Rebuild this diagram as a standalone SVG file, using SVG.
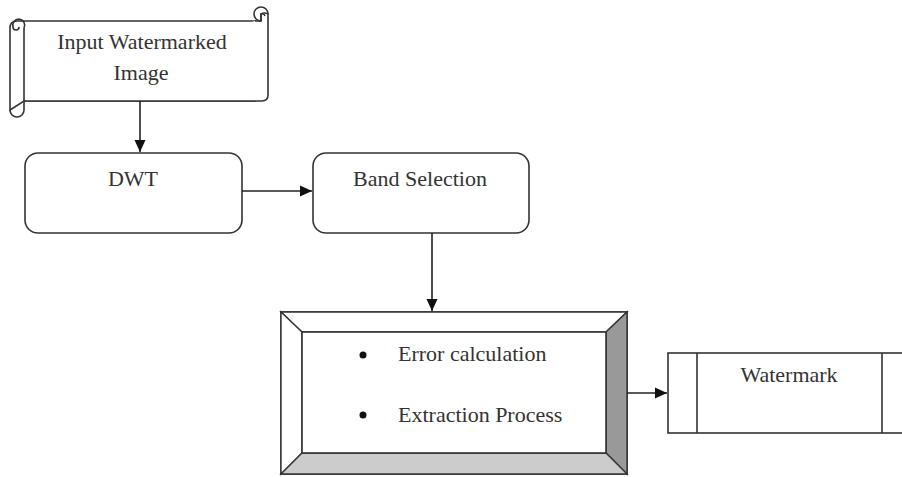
<svg xmlns="http://www.w3.org/2000/svg" width="902" height="477" viewBox="0 0 902 477">
  <style>
    .shape { fill: #ffffff; stroke: #333333; stroke-width: 1.6; }
    .line { fill: none; stroke: #333333; stroke-width: 1.6; }
    .conn { fill: none; stroke: #222222; stroke-width: 1.6; }
    .label { font-family: "Liberation Serif", "Times New Roman", serif; font-size: 22px; fill: #333333; }
    .mid { text-anchor: middle; }
  </style>
  <defs>
    <marker id="arrow" markerUnits="userSpaceOnUse" markerWidth="12" markerHeight="12" viewBox="0 0 12 12" refX="12" refY="6" orient="auto">
      <path d="M0,0.5 L12,6 L0,11.5 Z" fill="#111111"/>
    </marker>
  </defs>
  <rect width="902" height="477" fill="#ffffff"/>

  <!-- Scroll: input image -->
  <g id="input-image">
    <path class="shape" d="M10,110 V28 Q10,21 17,21 H255 V101 H24 Z"/>
    <path class="shape" d="M255,21 H261 V14 A7,7 0 0 1 268,14 V95 Q268,101 262,101 H24"/>
    <path class="line" d="M24,28 V110 A7,7 0 0 1 10,110"/>
    <path class="line" d="M24,28 A6,6 0 1 0 13,27 A3,3 0 0 0 19,27"/>
    <path class="line" d="M268,14 A7,7 0 1 0 254,14 A7,7 0 0 0 261,21 M261,21 V14 A3,3 0 0 1 265,16"/>
    <text class="label mid" x="142" y="49">Input Watermarked</text>
    <text class="label mid" x="141" y="80">Image</text>
  </g>

  <!-- DWT -->
  <g id="dwt">
    <rect class="shape" x="25" y="153" width="217" height="80" rx="13" ry="13"/>
    <text class="label mid" x="133" y="186">DWT</text>
  </g>

  <!-- Band selection -->
  <g id="band-selection">
    <rect class="shape" x="313" y="153" width="216" height="80" rx="13" ry="13"/>
    <text class="label mid" x="420" y="186">Band Selection</text>
  </g>

  <!-- Bevelled processing block -->
  <g id="extraction">
    <rect class="shape" x="281" y="312" width="346" height="162"/>
    <path d="M281,312 H627 L606,332 H302 Z" fill="#ffffff" stroke="#333333" stroke-width="1.4"/>
    <path d="M281,312 L302,332 V453 L281,474 Z" fill="#ffffff" stroke="#333333" stroke-width="1.4"/>
    <path d="M627,312 V474 L606,453 V332 Z" fill="#999999" stroke="#333333" stroke-width="1.4"/>
    <path d="M281,474 H627 L606,453 H302 Z" fill="#cccccc" stroke="#333333" stroke-width="1.4"/>
    <rect class="shape" x="302" y="332" width="304" height="121"/>
    <circle cx="363" cy="355" r="3.5" fill="#111111"/>
    <circle cx="363" cy="415" r="3.5" fill="#111111"/>
    <text class="label" x="398" y="361">Error calculation</text>
    <text class="label" x="398" y="422">Extraction Process</text>
  </g>

  <!-- Watermark -->
  <g id="watermark">
    <rect class="shape" x="668" y="353" width="250" height="80"/>
    <line class="line" x1="697" y1="353" x2="697" y2="433"/>
    <line class="line" x1="882" y1="353" x2="882" y2="433"/>
    <text class="label mid" x="789" y="382">Watermark</text>
  </g>

  <!-- Connectors -->
  <g id="connectors">
    <line class="conn" x1="140" y1="101" x2="140" y2="152" marker-end="url(#arrow)"/>
    <line class="conn" x1="242" y1="191" x2="312" y2="191" marker-end="url(#arrow)"/>
    <line class="conn" x1="432" y1="233" x2="432" y2="311" marker-end="url(#arrow)"/>
    <line class="conn" x1="627" y1="393" x2="667" y2="393" marker-end="url(#arrow)"/>
  </g>
</svg>
